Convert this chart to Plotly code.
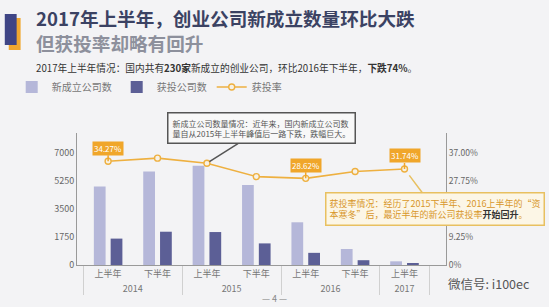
import plotly.graph_objects as go

# ---------------- data ----------------
years = ["2014", "2014", "2015", "2015", "2016", "2016", "2017"]
halves = ["上半年", "下半年", "上半年", "下半年", "上半年", "下半年", "上半年"]
new_companies = [4900, 5850, 6200, 5000, 2670, 1000, 230]
funded_companies = [1650, 2080, 2060, 1350, 760, 300, 73]
funding_rate = [34.27, 35.3, 33.6, 29.2, 28.62, 30.9, 31.74]
rate_label_idx = [0, 4, 6]
rate_label_txt = ["34.27%", "28.62%", "31.74%"]
left_ticks = [0, 1750, 3500, 5250, 7000]
right_ticks = [0, 9.25, 27.75, 37]
right_tick_text = ["0%", "9.25%", "27.75%", "37.00%"]

FONT = "Noto Sans CJK SC"
W, H = 549, 307
L, R, T, B = 73, 446, 133, 265


def px(x):
    return (x - L) / (R - L)


def py(y):
    return (B - y) / (B - T)


LIGHT = "#b5b7d9"
DARK = "#5c5f96"
ORANGE = "#eeb040"

fig = go.Figure()
fig.add_bar(x=[years, halves], y=new_companies, name="新成立公司数",
            marker_color=LIGHT, marker_line_width=0)
fig.add_bar(x=[years, halves], y=funded_companies, name="获投公司数",
            marker_color=DARK, marker_line_width=0)
fig.add_scatter(x=[years, halves], y=funding_rate, yaxis="y2", name="获投率",
                mode="lines+markers",
                line=dict(color=ORANGE, width=1.6),
                marker=dict(size=6, color="#f7f2e6",
                            line=dict(color=ORANGE, width=1.4)))

annotations = []
# rate labels
for i, txt in zip(rate_label_idx, rate_label_txt):
    annotations.append(dict(
        x=i, y=funding_rate[i], xref="x", yref="y2", text=txt,
        showarrow=True, arrowhead=0, arrowwidth=1.5, arrowcolor="#f0a62a",
        ax=0, ay=-13, bgcolor="#f0a62a", borderpad=1,
        font=dict(family=FONT, size=8, color="white")))

# callout 1
annotations.append(dict(
    x=2, y=funding_rate[2], xref="x", yref="y2",
    text="新成立公司数量情况：近年来，国内新成立公司数<br>量自从2015年上半年峰值后一路下跌，跌幅巨大。",
    showarrow=True, arrowhead=0, arrowwidth=1.5, arrowcolor="#555",
    ax=55, ay=-35, standoff=3, align="left",
    bgcolor="#f8f8f8", bordercolor="#555", borderwidth=1.5, borderpad=4,
    font=dict(family=FONT, size=8.0, color="#555")))

# callout 2
annotations.append(dict(
    x=6, y=funding_rate[6], xref="x", yref="y2",
    text="获投率情况：经历了2015下半年、2016上半年的“资<br>本寒冬”后，最近半年的新公司获投率<b><span style='color:#333'>开始回升</span></b>。",
    showarrow=True, arrowhead=0, arrowwidth=1.5, arrowcolor="#e8c060",
    ax=30, ay=40, standoff=8, align="left",
    bgcolor="#fcf6e6", bordercolor="#e8c060", borderwidth=1.5, borderpad=3,
    font=dict(family=FONT, size=9.0, color="#d8962a")))

# titles
annotations += [
    dict(x=px(30), y=py(30.5), xref="paper", yref="paper", xanchor="left", yanchor="middle",
         text="<b><span style='font-size:18.6px;color:#3b4263'>2017年上半年，创业公司新成立数量环比大跌</span></b>"
              "<br><b><span style='font-size:18.6px;color:#8d909c'>但获投率却略有回升</span></b>",
         showarrow=False, align="left",
         font=dict(family=FONT, size=19.3, color="#3b4263")),
    dict(x=px(30), y=py(68), xref="paper", yref="paper", xanchor="left", yanchor="middle",
         text="2017年上半年情况：国内共有<b>230家</b>新成立的创业公司，环比2016年下半年，<b>下跌74%</b>。",
         showarrow=False, font=dict(family=FONT, size=9.7, color="#333")),
    dict(x=px(273), y=py(298), xref="paper", yref="paper", xanchor="center", yanchor="middle",
         text="— 4 —", showarrow=False, font=dict(family=FONT, size=9, color="#888")),
    dict(x=px(446), y=py(283), xref="paper", yref="paper", xanchor="left", yanchor="middle",
         text="微信号: i100ec", showarrow=False, font=dict(family=FONT, size=12.5, color="#555")),
]

shapes = [
    dict(type="rect", xref="paper", yref="paper", x0=px(4), x1=px(16), y0=py(50), y1=py(18),
         fillcolor="#f0a830", line_width=0, layer="above"),
    dict(type="rect", xref="paper", yref="paper", x0=px(0), x1=px(12), y0=py(45), y1=py(14),
         fillcolor="#3f4585", line_width=0, layer="above"),
]

fig.update_layout(
    width=W, height=H,
    margin=dict(l=L, r=W - R, t=T, b=H - B, pad=0),
    paper_bgcolor="#f3f3f5", plot_bgcolor="#f3f3f5",
    font=dict(family=FONT, color="#666"),
    barmode="group", bargap=0.32, bargroupgap=0.3,
    showlegend=True,
    legend=dict(orientation="h", x=px(7), y=py(87), xanchor="left", yanchor="middle",
                font=dict(family=FONT, size=10, color="#777"), bgcolor="rgba(0,0,0,0)",
                itemwidth=30, traceorder="normal"),
    xaxis=dict(type="multicategory", range=[-0.63, 6.84], showline=True, linecolor="#999",
               linewidth=1, ticks="", showgrid=False, showdividers=True,
               dividercolor="#d0d0d0", dividerwidth=1,
               tickfont=dict(family=FONT, size=9, color="#777")),
    yaxis=dict(range=[0, 8250], tickvals=left_ticks, showgrid=False, zeroline=False,
               showline=True, linecolor="#999", linewidth=1, ticks="",
               tickfont=dict(family=FONT, size=9, color="#666")),
    yaxis2=dict(range=[0, 43.61], overlaying="y", side="right", tickvals=right_ticks,
                ticktext=right_tick_text, showgrid=False, zeroline=False,
                showline=True, linecolor="#999", linewidth=1, ticks="",
                tickfont=dict(family=FONT, size=8.5, color="#666")),
    annotations=annotations, shapes=shapes,
)

fig.write_html("out.html")
